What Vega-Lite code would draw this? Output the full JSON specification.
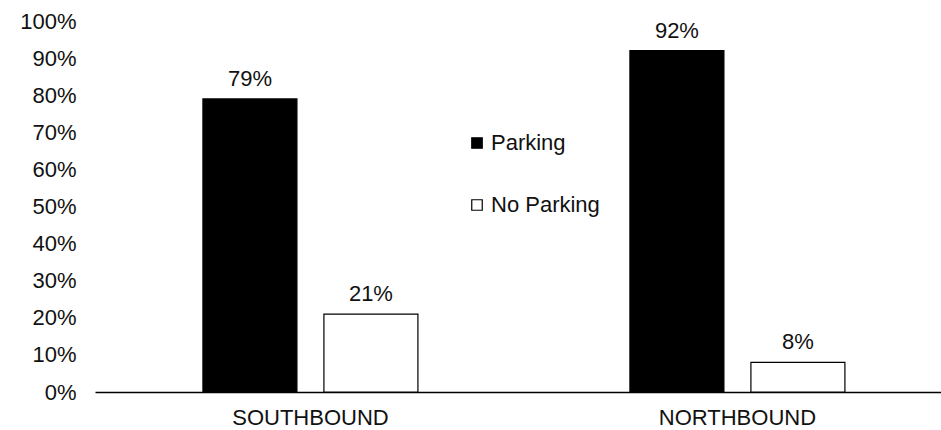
{
  "$schema": "https://vega.github.io/schema/vega-lite/v6.json",
  "width": 846,
  "height": 371,
  "autosize": {"type": "none"},
  "padding": {"left": 95, "top": 21, "right": 0, "bottom": 38},
  "background": "white",
  "config": {
    "view": {"stroke": null},
    "font": "Liberation Sans",
    "axis": {"grid": false, "labelFont": "Liberation Sans", "labelFontSize": 22, "labelColor": "#111"}
  },
  "data": {
    "values": [
      {"direction": "SOUTHBOUND", "status": "Parking", "share": 0.79},
      {"direction": "SOUTHBOUND", "status": "No Parking", "share": 0.21},
      {"direction": "NORTHBOUND", "status": "Parking", "share": 0.92},
      {"direction": "NORTHBOUND", "status": "No Parking", "share": 0.08}
    ]
  },
  "encoding": {
    "x": {
      "field": "direction",
      "type": "nominal",
      "sort": ["SOUTHBOUND", "NORTHBOUND"],
      "scale": {"paddingInner": 0.4965, "paddingOuter": 0.2389, "align": 0.529},
      "axis": {"title": null, "labelAngle": 0, "ticks": false, "tickSize": 0, "labelPadding": 15, "domainColor": "#000", "domainWidth": 1.3}
    },
    "xOffset": {
      "field": "status",
      "type": "nominal",
      "sort": ["Parking", "No Parking"],
      "scale": {"paddingInner": 0.2231, "paddingOuter": 0}
    },
    "y": {
      "field": "share",
      "type": "quantitative",
      "scale": {"domain": [0, 1]},
      "axis": {
        "title": null,
        "format": ".0%",
        "values": [0, 0.1, 0.2, 0.3, 0.4, 0.5, 0.6, 0.7, 0.8, 0.9, 1],
        "domain": false,
        "ticks": false,
        "tickSize": 0,
        "labelPadding": 19
      }
    }
  },
  "layer": [
    {
      "mark": {"type": "bar", "stroke": "#000", "strokeWidth": 1.2},
      "encoding": {
        "fill": {
          "field": "status",
          "type": "nominal",
          "sort": ["Parking", "No Parking"],
          "scale": {"domain": ["Parking", "No Parking"], "range": ["#000000", "#ffffff"]},
          "legend": {
            "title": null,
            "orient": "none",
            "legendX": 371,
            "legendY": 111,
            "symbolType": "square",
            "symbolSize": 110,
            "symbolStrokeColor": "#000",
            "symbolStrokeWidth": 1.2,
            "labelFont": "Liberation Sans",
            "labelFontSize": 22,
            "labelColor": "#111",
            "labelOffset": 3,
            "rowPadding": 40
          }
        }
      }
    },
    {
      "mark": {"type": "text", "baseline": "alphabetic", "dy": -13, "fontSize": 22, "font": "Liberation Sans", "color": "#111"},
      "encoding": {
        "text": {"field": "share", "type": "quantitative", "format": ".0%"}
      }
    }
  ]
}
